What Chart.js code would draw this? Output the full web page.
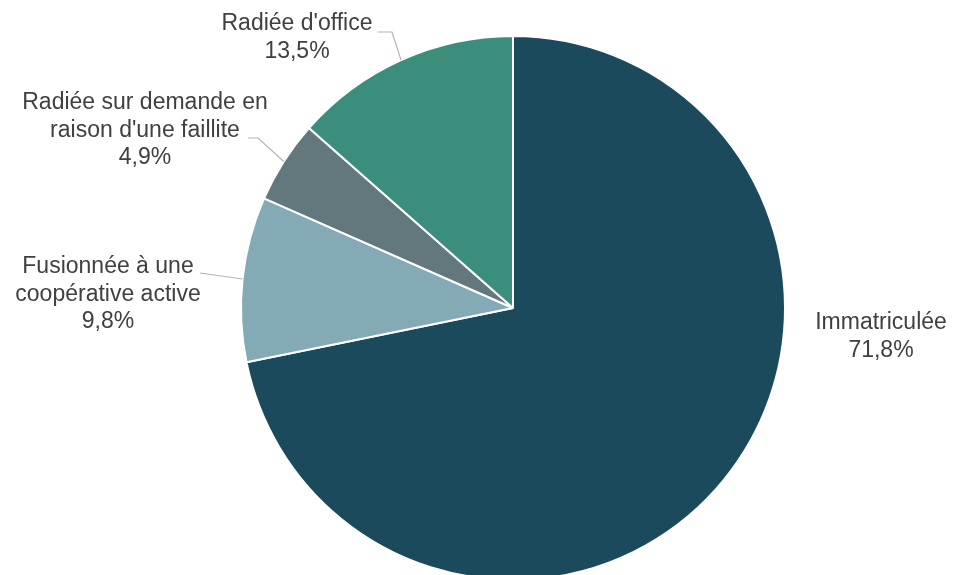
<!DOCTYPE html>
<html lang="fr">
<head>
<meta charset="utf-8">
<script src="https://cdn.jsdelivr.net/npm/chart.js@4/dist/chart.umd.min.js"></script>
<style>
  html, body { margin: 0; padding: 0; background: #fff; overflow: hidden; }
  #wrap { width: 953px; height: 600px; }
</style>
</head>
<body>
<div id="wrap"><canvas id="statusChart" width="953" height="600"></canvas></div>
<script>
const labels = [
  ["Immatriculée"],
  ["Fusionnée à une", "coopérative active"],
  ["Radiée sur demande en", "raison d'une faillite"],
  ["Radiée d'office"]
];
const shares = [71.8, 9.8, 4.9, 13.5];
const colors = ["#1b4a5c", "#84aab6", "#63787d", "#3b8e7c"];

// where each label block sits, and the bend of its leader line (null = no line)
const labelLayout = [
  { x: 881, y: 323, leader: null },
  { x: 108, y: 267, leader: [[200, 273]] },
  { x: 145, y: 103, leader: [[258, 138], [248, 138]] },
  { x: 297, y: 24, leader: [[392, 32], [378, 32]] }
];

const fmt = v => v.toFixed(1).replace(".", ",") + "%";

const outsideLabels = {
  id: "outsideLabels",
  afterDatasetsDraw(chart) {
    const ctx = chart.ctx;
    const arcs = chart.getDatasetMeta(0).data;
    ctx.save();
    arcs.forEach((arc, i) => {
      const lay = labelLayout[i];
      if (lay.leader) {
        const mid = (arc.startAngle + arc.endAngle) / 2;
        const ex = arc.x + Math.cos(mid) * arc.outerRadius;
        const ey = arc.y + Math.sin(mid) * arc.outerRadius;
        ctx.beginPath();
        ctx.moveTo(ex, ey);
        lay.leader.forEach(p => ctx.lineTo(p[0], p[1]));
        ctx.strokeStyle = "#b3b3b3";
        ctx.lineWidth = 1.2;
        ctx.stroke();
      }
      const lines = labels[i].concat([fmt(shares[i])]);
      ctx.font = "23px 'Liberation Sans', Arial, sans-serif";
      ctx.fillStyle = "#404040";
      ctx.textAlign = "center";
      ctx.textBaseline = "middle";
      lines.forEach((t, k) => ctx.fillText(t, lay.x, lay.y + k * 27.5));
    });
    ctx.restore();
  }
};

new Chart(document.getElementById("statusChart"), {
  type: "pie",
  data: {
    labels: labels.map(l => l.join(" ")),
    datasets: [{
      data: shares,
      backgroundColor: colors,
      borderColor: "#ffffff",
      borderWidth: 2
    }]
  },
  options: {
    responsive: false,
    animation: false,
    layout: { padding: { left: 240, right: 167, top: 35, bottom: 19 } },
    plugins: {
      legend: { display: false },
      tooltip: { enabled: false }
    }
  },
  plugins: [outsideLabels]
});
</script>
</body>
</html>
